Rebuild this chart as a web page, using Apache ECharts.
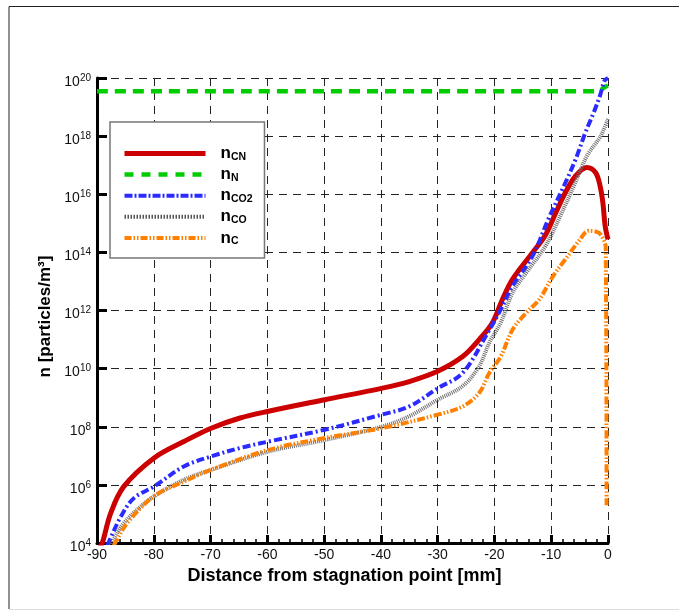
<!DOCTYPE html>
<html>
<head>
<meta charset="utf-8">
<script src="https://cdn.jsdelivr.net/npm/echarts@6/dist/echarts.min.js"></script>
<style>
html,body{margin:0;padding:0;background:#fff;}
#chart{width:679px;height:610px;}
</style>
</head>
<body>
<div id="chart"></div>
<script>
// ---- Data ----
const xTicks = [-90, -80, -70, -60, -50, -40, -30, -20, -10, 0];
const yTickExponents = [4, 6, 8, 10, 12, 14, 16, 18, 20];

const seriesNames = ['nCN', 'nN', 'nCO2', 'nCO', 'nC'];
const seriesSubs = ['CN', 'N', 'CO2', 'CO', 'C'];

const cnX = [-89.5, -89.0, -87.6, -85.3, -80, -74.7, -69.9, -64.8, -59.8, -49.9, -39.9, -35, -30, -25.6, -22.7, -20.35, -18.6, -16.8, -13.3, -11.0, -9.2, -7.5, -5.7, -3.7, -2.2, -1.4, -0.9, -0.5, 0];
const cnY = [7e3, 1.1e4, 1.05e5, 8.7e5, 8.3e6, 3.1e7, 8.9e7, 2.0e8, 3.4e8, 8.5e8, 2.1e9, 3.6e9, 8.1e9, 2.6e10, 1.0e11, 3.8e11, 2.4e12, 1.2e13, 9.8e13, 4.0e14, 2.3e15, 1.15e16, 4.3e16, 8.3e16, 5.6e16, 1.95e16, 5.1e15, 8e14, 2.8e14];

const nX = [-90, -3, -1.5, -0.5, 0];
const nY = [3.5e19, 3.5e19, 3.7e19, 5.0e19, 5.5e19];

const co2X = [-88.2, -87.9, -85.8, -83.5, -80, -74.7, -69.9, -64.8, -59.8, -49.9, -39.9, -35, -30, -25.6, -21.2, -18.9, -16.8, -13.3, -10.5, -7.5, -5.7, -4.0, -2.5, -1.4, -0.6, 0];
const co2Y = [8e3, 1.1e4, 8.1e4, 3.5e5, 8.7e5, 4.3e6, 9.5e6, 1.86e7, 3.1e7, 7.9e7, 2.6e8, 5.0e8, 2.1e9, 7.1e9, 1.7e11, 1.07e12, 6.9e12, 7.4e13, 1.4e15, 2.5e16, 1.6e17, 1.3e18, 6.6e18, 2.5e19, 8.1e19, 1.0e20];

const coX = [-87.6, -87.3, -85.3, -82.3, -80, -74.7, -69.9, -59.8, -49.9, -39.9, -35, -30, -25.6, -22.7, -20.9, -18.9, -16.8, -14.4, -11, -8.4, -6.0, -3.7, -1.3, 0];
const coY = [8e3, 1.1e4, 4.8e4, 1.8e5, 4.0e5, 1.5e6, 3.3e6, 1.4e7, 3.5e7, 1.0e8, 2.3e8, 8.5e8, 2.5e9, 1.2e10, 7.8e10, 3.8e11, 4.1e12, 2.0e13, 1.66e14, 1.8e15, 1.95e16, 2.1e17, 1.0e18, 3.9e18];

const cX = [-87.0, -86.7, -84.7, -80, -74.7, -69.9, -59.8, -49.9, -39.9, -30, -25.6, -22.7, -20.9, -18.9, -16.8, -14.4, -12.1, -9.7, -7.5, -5.1, -3.4, -1.7, -0.8, -0.4, -0.25];
const cY = [8e3, 1.1e4, 4.8e4, 4.0e5, 1.3e6, 3.3e6, 1.6e7, 4.1e7, 8.9e7, 2.6e8, 5.0e8, 1.45e9, 7.1e9, 2.6e10, 2.2e11, 8.3e11, 2.4e12, 1.5e13, 5.8e13, 2.5e14, 5.5e14, 4.8e14, 2.8e14, 1.5e14, 2.0e5];

function pairs(xs, ys) { return xs.map((x, i) => [x, ys[i]]); }

const FONT = '"Liberation Sans", Arial, sans-serif';

const chart = echarts.init(document.getElementById('chart'), null, {renderer: 'canvas'});

const seriesStyles = [
  {color: '#cc0000', width: 5, type: 'solid'},
  {color: '#00cc00', width: 4.5, type: [11, 7]},
  {color: '#2b2bff', width: 4, type: [8, 3, 2, 3]},
  {color: '#6e6e6e', width: 4, type: [1, 1]},
  {color: '#ff8000', width: 4, type: [8, 2, 1.5, 2, 1.5, 2]}
];
const legendStyles = [
  {color: '#cc0000', width: 5, type: 'solid'},
  {color: '#00cc00', width: 4.5, type: [9, 8]},
  {color: '#2b2bff', width: 4, type: [8, 2, 2, 2]},
  {color: '#555555', width: 4, type: [1.5, 1.5]},
  {color: '#ff8000', width: 4, type: [7, 2, 1.5, 2, 1.5, 2]}
];
const seriesData = [pairs(cnX, cnY), pairs(nX, nY), pairs(co2X, co2Y), pairs(coX, coY), pairs(cX, cY)];

const series = seriesNames.map((name, i) => ({
  name: name,
  type: 'line',
  data: seriesData[i],
  showSymbol: false,
  symbol: 'none',
  smooth: 0.35,
  clip: true,
  animation: false,
  color: seriesStyles[i].color,
  lineStyle: {color: seriesStyles[i].color, width: seriesStyles[i].width, type: seriesStyles[i].type, cap: 'butt'},
  z: 3
}));

const option = {
  animation: false,
  backgroundColor: '#fff',
  textStyle: {fontFamily: FONT},
  grid: {left: 97, right: 71, top: 78, bottom: 67, containLabel: false},
  legend: {
    orient: 'vertical',
    left: 110,
    top: 122,
    padding: [23, 12, 11, 12],
    itemWidth: 81,
    itemHeight: 14,
    itemGap: 3.6,
    backgroundColor: '#fff',
    borderColor: '#777',
    borderWidth: 1.5,
    borderRadius: 0,
    itemStyle: {opacity: 0},
    data: seriesNames.map((n, i) => ({
      name: n,
      itemStyle: {opacity: 0},
      lineStyle: {color: legendStyles[i].color, width: legendStyles[i].width, type: legendStyles[i].type, cap: 'butt'}
    })),
    formatter: function (name) {
      const i = seriesNames.indexOf(name);
      return '{n|n}{s|' + seriesSubs[i] + '}';
    },
    textStyle: {
      padding: [0, 0, 0, 10],
      rich: {
        n: {fontSize: 17, fontWeight: 'bold', fontFamily: FONT, color: '#000', lineHeight: 18},
        s: {fontSize: 10.5, fontWeight: 'bold', fontFamily: FONT, color: '#000', lineHeight: 2, verticalAlign: 'bottom'}
      }
    },
    z: 10
  },
  xAxis: {
    type: 'value',
    min: -90,
    max: 0,
    interval: 10,
    name: 'Distance from stagnation point [mm]',
    nameLocation: 'middle',
    nameGap: 21,
    nameTextStyle: {fontSize: 18, fontWeight: 'bold', color: '#000', fontFamily: FONT, padding: [0, 16, 0, 0]},
    axisLine: {show: true, onZero: false, lineStyle: {color: '#000', width: 3}},
    axisTick: {show: true, inside: true, length: 8, lineStyle: {color: '#000', width: 3}},
    minorTick: {show: true, splitNumber: 5, length: 4, lineStyle: {color: '#000', width: 1.5}},
    axisLabel: {fontSize: 14, color: '#111', margin: 5, fontFamily: FONT},
    splitLine: {show: true, lineStyle: {color: '#222', width: 1, type: [8, 6]}}
  },
  yAxis: {
    type: 'log',
    logBase: 10,
    min: 1e4,
    max: 1e20,
    interval: 2,
    name: 'n [particles/m³]',
    nameLocation: 'middle',
    nameGap: 28,
    nameRotate: 90,
    nameTextStyle: {fontSize: 17, fontWeight: 'bold', color: '#000', fontFamily: FONT, padding: [0, 12, 0, 0]},
    axisLine: {show: true, onZero: false, lineStyle: {color: '#000', width: 3}},
    axisTick: {show: true, inside: true, length: 10, lineStyle: {color: '#000', width: 3}},
    minorTick: {show: false},
    axisLabel: {
      margin: 6,
      padding: [8, 0, 0, 0],
      formatter: function (v) {
        const e = Math.round(Math.log10(v));
        return '{b|10}{e|' + e + '}';
      },
      rich: {
        b: {fontSize: 14, color: '#111', fontFamily: FONT, lineHeight: 18},
        e: {fontSize: 10, color: '#111', fontFamily: FONT, lineHeight: 2, verticalAlign: 'top'}
      }
    },
    splitLine: {show: true, lineStyle: {color: '#222', width: 1, type: [8, 6]}}
  },
  graphic: [
    {type: 'polyline', silent: true, shape: {points: [[9, 609], [9, 6.5], [679, 6.5]]}, style: {stroke: '#222', lineWidth: 1, fill: null}, z: 0},
    {type: 'line', silent: true, shape: {x1: 9, y1: 609.5, x2: 679, y2: 609.5}, style: {stroke: '#ddd', lineWidth: 1}, z: 0}
  ],
  series: series
};

chart.setOption(option);
</script>
</body>
</html>
